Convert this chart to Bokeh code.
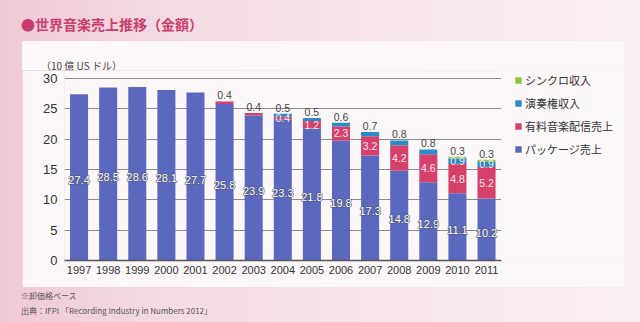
from bokeh.plotting import figure
from bokeh.models import (ColumnDataSource, Range1d, BoxAnnotation, Legend, LegendItem,
                          SingleIntervalTicker, FixedTicker, Div, Spacer)
from bokeh.layouts import column, row
from bokeh.embed import file_html
from bokeh.resources import INLINE
from bokeh.core.properties import value

years = ["1997", "1998", "1999", "2000", "2001", "2002", "2003", "2004",
         "2005", "2006", "2007", "2008", "2009", "2010", "2011"]
package = [27.4, 28.5, 28.6, 28.1, 27.7, 25.8, 23.9, 23.3, 21.8, 19.8, 17.3, 14.8, 12.9, 11.1, 10.2]
digital = [0, 0, 0, 0, 0, 0.4, 0.4, 0.4, 1.2, 2.3, 3.2, 4.2, 4.6, 4.8, 5.2]
performance = [0, 0, 0, 0, 0, 0, 0, 0.5, 0.5, 0.6, 0.7, 0.8, 0.8, 0.9, 0.9]
sync = [0, 0, 0, 0, 0, 0, 0, 0, 0, 0, 0, 0, 0, 0.3, 0.3]

series_keys = ["package", "digital", "performance", "sync"]
series_names = ["パッケージ売上", "有料音楽配信売上", "演奏権収入", "シンクロ収入"]
colors = ["#5a69bd", "#d6416b", "#2a8cc6", "#8cc63c"]

title_text = "●世界音楽売上推移（金額）"
unit_text = "（10 億 US ドル）"
note_texts = ["※卸価格ベース", "出典：IFPI 「Recording Industry in Numbers 2012」"]

LAT = "Liberation Sans"
JP = "Noto Sans CJK JP"
PANEL = "#fcf7f9"

xs = list(range(len(years)))
src = ColumnDataSource(dict(x=xs, package=package, digital=digital,
                            performance=performance, sync=sync))

n = len(years)
p = figure(width=602, height=217, x_range=Range1d(-0.5, n - 0.5 + 4.24),
           y_range=Range1d(0, 31.32), output_backend="svg", toolbar_location=None,
           title=None,
           min_border_left=42, min_border_right=0, min_border_top=0, min_border_bottom=27)
p.border_fill_color = PANEL
p.background_fill_color = PANEL
p.outline_line_color = None

rs = p.vbar_stack(series_keys, x="x", width=0.62, color=colors, source=src, line_color=None)

# hide grid lines to the right of the bars (legend area)
p.add_layout(BoxAnnotation(left=n - 0.5, fill_color=PANEL, fill_alpha=1, line_color=None))

# value labels
in_x, in_y, in_t = [], [], []
pk_x, pk_y, pk_t = [], [], []
ab_x, ab_y, ab_t = [], [], []
for i in xs:
    vals = [package[i], digital[i], performance[i], sync[i]]
    top_idx = max(k for k, v in enumerate(vals) if v > 0)
    base = 0.0
    for k, v in enumerate(vals):
        if v <= 0:
            continue
        if k == 0:
            pk_x.append(i); pk_y.append(v / 2 - 0.5); pk_t.append(f"{v:.1f}")
        elif k == top_idx:
            ab_x.append(i); ab_y.append(base + v + 0.35); ab_t.append(f"{v:.1f}")
        else:
            in_x.append(i); in_y.append(base + v / 2); in_t.append(f"{v:.1f}")
        base += v

# package labels: dark halo underneath, white text on top
p.text(x=pk_x, y=pk_y, text=pk_t, text_color="#4e5266", text_font=value(LAT),
       text_font_size="11px", text_align="center", text_baseline="middle",
       text_outline_color="#4e5266")
p.text(x=pk_x, y=pk_y, text=pk_t, text_color="white", text_font=value(LAT),
       text_font_size="11px", text_align="center", text_baseline="middle")
p.text(x=in_x, y=in_y, text=in_t, text_color="#fbe6ee", text_font=value(LAT),
       text_font_size="10.5px", text_align="center", text_baseline="middle")
p.text(x=ab_x, y=ab_y, text=ab_t, text_color="#444444", text_font=value(LAT),
       text_font_size="10.5px", text_align="center", text_baseline="bottom")

# axes
p.yaxis.ticker = SingleIntervalTicker(interval=5)
p.yaxis.axis_line_color = None
p.yaxis.major_tick_line_color = None
p.yaxis.minor_tick_line_color = None
p.yaxis.major_tick_out = 0
p.yaxis.major_tick_in = 0
p.yaxis.major_label_text_font = LAT
p.yaxis.major_label_text_font_size = "13px"
p.yaxis.major_label_text_color = "#333333"
p.yaxis.major_label_standoff = 3
p.xaxis.ticker = FixedTicker(ticks=xs)
p.xaxis.major_label_overrides = {i: y for i, y in zip(xs, years)}
p.xaxis.bounds = (-0.5, n - 0.5)
p.xaxis.axis_line_color = "#555555"
p.xaxis.axis_line_width = 1.5
p.xaxis.major_tick_line_color = None
p.xaxis.minor_tick_line_color = None
p.xaxis.major_tick_out = 0
p.xaxis.major_tick_in = 0
p.xaxis.major_label_text_font = LAT
p.xaxis.major_label_text_font_size = "11px"
p.xaxis.major_label_text_color = "#333333"
p.xaxis.major_label_standoff = 5
p.xgrid.grid_line_color = None
p.ygrid.grid_line_color = "#8a8a8a"
p.ygrid.grid_line_width = 1

# legend
items = [LegendItem(label=series_names[k], renderers=[rs[k]]) for k in [3, 2, 1, 0]]
legend = Legend(items=items, location=(450, 101), orientation="vertical")
legend.background_fill_alpha = 0
legend.border_line_color = None
legend.glyph_width = 8
legend.glyph_height = 8
legend.label_standoff = 3
legend.label_text_font = JP
legend.label_text_font_size = "11px"
legend.label_text_color = "#333333"
legend.label_height = 20
legend.spacing = 3
legend.padding = 0
legend.margin = 0
p.add_layout(legend)

title_div = Div(
    text=f'<div style="position:relative;left:21px;top:14px;font-family:\'{JP}\';'
         f'font-weight:bold;font-size:14px;line-height:20px;color:#cc3c6d;'
         f'white-space:nowrap">{title_text}</div>',
    width=640, height=41, margin=0)
unit_div = Div(
    text=f'<div style="position:relative;left:19px;top:17px;font-family:\'{JP}\';'
         f'font-size:10px;line-height:14px;color:#444444;'
         f'white-space:nowrap">{unit_text}</div>',
    width=602, height=29, margin=0,
    styles={"background-color": PANEL})
notes_html = "".join(
    f'<div style="line-height:15px;white-space:nowrap">{t}</div>' for t in note_texts)
notes_div = Div(
    text=f'<div style="position:relative;left:21px;top:1px;font-family:\'{JP}\';'
         f'font-size:8px;color:#555555">{notes_html}</div>',
    width=640, height=35, margin=0)

layout = column(
    title_div,
    row(Spacer(width=22, height=246), column(unit_div, p), Spacer(width=16, height=246)),
    notes_div,
    width=640, height=322,
    styles={"background": "linear-gradient(90deg, #efc9d6 0%, #f4dde5 30%, #f7e8ed 70%, #f9eef2 100%)"},
)

open("out.html", "w").write(file_html(layout, INLINE))
